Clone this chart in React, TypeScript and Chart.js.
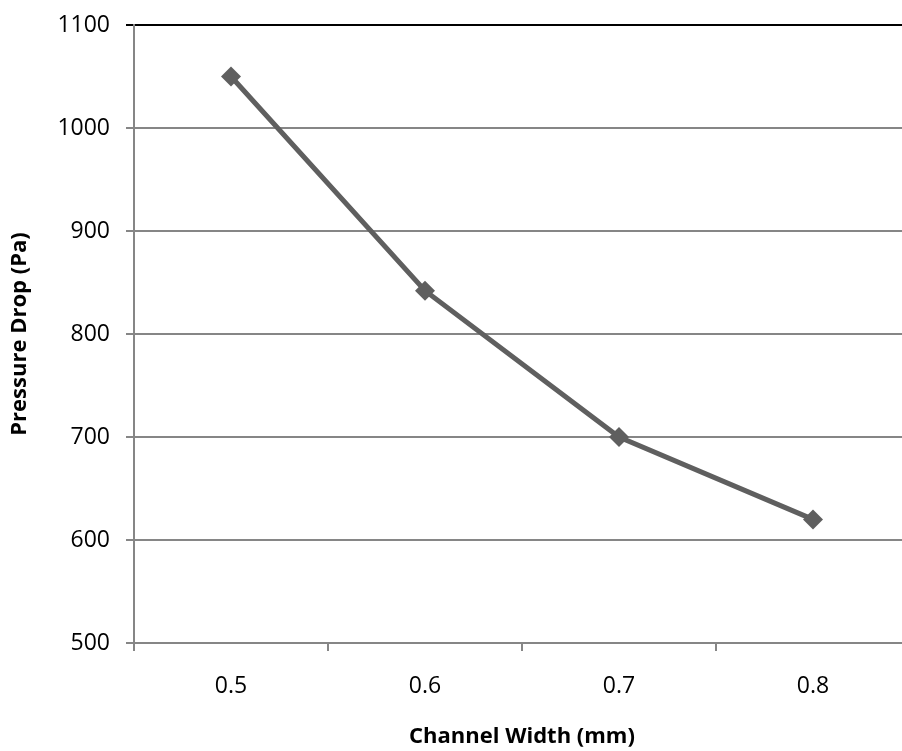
import React, { useEffect, useRef } from "react";
import { Chart, registerables } from "chart.js";

Chart.register(...registerables);

const channelWidths = ["0.5", "0.6", "0.7", "0.8"];
const pressureDrop = [1050, 842, 700, 620];
const yMin = 500;
const yMax = 1100;
const yStep = 100;

const CANVAS_W = 930;
const CANVAS_H = 751;
const FONT = "'Open Sans', 'Liberation Sans', sans-serif";

export default function App() {
  const ref = useRef<HTMLCanvasElement | null>(null);

  useEffect(() => {
    if (!ref.current) return;
    const chart = new Chart(ref.current, {
      type: "line",
      data: {
        labels: channelWidths,
        datasets: [
          {
            data: pressureDrop,
            borderColor: "#5f5f5f",
            backgroundColor: "#5f5f5f",
            borderWidth: 5,
            pointStyle: "rectRot",
            pointRadius: 10,
            pointBorderWidth: 0,
            pointBackgroundColor: "#5f5f5f",
            tension: 0,
            clip: false,
          },
        ],
      },
      options: {
        responsive: false,
        animation: false,
        devicePixelRatio: 1,
        layout: { padding: { left: 0, top: 25, right: CANVAS_W - 910, bottom: 0 } },
        plugins: { legend: { display: false }, tooltip: { enabled: false } },
        scales: {
          x: {
            type: "category",
            offset: true,
            grid: {
              display: true,
              drawOnChartArea: false,
              drawTicks: true,
              tickLength: 8,
              color: "#868686",
              lineWidth: 2,
              offset: true,
            },
            border: { display: true, color: "#868686", width: 2 },
            ticks: {
              color: "#000",
              font: { family: FONT, size: 23 },
              padding: 22,
            },
            title: {
              display: true,
              text: "Channel Width (mm)",
              color: "#000",
              font: { family: FONT, size: 22, weight: "bold" },
              padding: { top: 0, bottom: 1 },
            },
            afterFit: (s: any) => {
              s.height = CANVAS_H - 643;
            },
          },
          y: {
            min: yMin,
            max: yMax,
            ticks: {
              stepSize: yStep,
              color: "#000",
              font: { family: FONT, size: 23 },
              padding: 16,
              callback: (v: any) => String(v),
            },
            grid: {
              color: (ctx: any) => (ctx.tick && ctx.tick.value === yMax ? "#000" : "#868686"),
              lineWidth: 2,
              tickLength: 8,
            },
            border: { display: true, color: "#868686", width: 2 },
            title: {
              display: true,
              text: "Pressure Drop (Pa)",
              color: "#000",
              font: { family: FONT, size: 22, weight: "bold" },
              padding: { top: 7, bottom: 0 },
            },
            afterFit: (s: any) => {
              s.width = 134;
              s.paddingTop = 0;
              s.paddingBottom = 0;
            },
          },
        },
      },
    });
    return () => chart.destroy();
  }, []);

  return (
    <div
      style={{
        position: "fixed",
        left: 0,
        top: 0,
        width: 902,
        height: CANVAS_H,
        overflow: "hidden",
        background: "#fff",
      }}
    >
      <canvas ref={ref} width={CANVAS_W} height={CANVAS_H} style={{ display: "block" }} />
    </div>
  );
}
